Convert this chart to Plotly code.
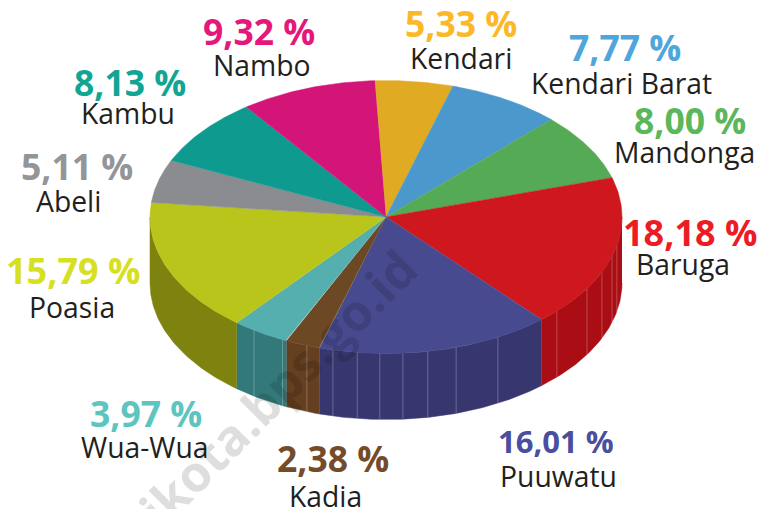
import numpy as np
import plotly.graph_objects as go

# Data (clockwise from the top of the pie)
districts = ["Kendari", "Kendari Barat", "Mandonga", "Baruga", "Puuwatu", "Kadia",
             "Wua-Wua", "Poasia", "Abeli", "Kambu", "Nambo"]
shares = [5.33, 7.77, 8.00, 18.18, 16.01, 2.38, 3.97, 15.79, 5.11, 8.13, 9.32]

# Styles
top_colors = ["#e0aa22", "#4a98cc", "#55aa55", "#ce181e", "#474a8e", "#6d4825",
              "#54afae", "#bac51c", "#8a8c8f", "#0f9a90", "#d31577"]
wall_colors = ["#a88019", "#376f96", "#3e7d3e", "#aa0d13", "#38366f", "#643f20",
               "#33797a", "#7e820e", "#66686a", "#0b716a", "#9b1058"]
label_colors = ["#fdb827", "#4ea6dc", "#5bb75b", "#ed1c24", "#4a4e9e", "#754c29",
                "#5cc5c0", "#d7df23", "#939598", "#12a594", "#e5177b"]
label_pos = [(461, 23, 58), (625, 47, 83), (690, 120, 152), (690, 232, 264),
             (556, 441, 476), (333, 458, 496), (146, 413, 447), (73, 270, 307),
             (77, 166, 201), (130, 82, 113), (259, 31, 65)]
label_sizes = [35.5, 35.5, 35.5, 36, 31, 35.5, 35.5, 36, 35.5, 35.5, 35.5]
name_x = [461, 621, 684, 683, 558, 325, 145, 72, 68, 128, 262]
stripe_angles = [133.6, 121.6, 113.8, 106.7, 102, 151.7, 162.7, 169.8, 175.9,
                 181.5, 187, 193, 199.6, 206, 214]

CX, CY, RX, RY, DEPTH, START = 386, 217, 236, 136.5, 66, -2.7
W, H = 763, 509
FONT = "Open Sans"


def ex(t):
    return CX + RX * np.sin(np.radians(t))


def ey(t):
    return CY - RY * np.cos(np.radians(t))


fig = go.Figure()
edges = START + np.concatenate([[0], np.cumsum(shares)]) * 360 / sum(shares)

# Side wall
for i in range(len(shares)):
    a, b = max(edges[i], 90), min(edges[i + 1], 270)
    if a >= b:
        continue
    t = np.linspace(a, b, 60)
    x = np.concatenate([ex(t), ex(t[::-1])])
    y = np.concatenate([ey(t), ey(t[::-1]) + DEPTH])
    fig.add_trace(go.Scatter(x=x, y=y, mode="lines", fill="toself", fillcolor=wall_colors[i],
                             line=dict(color=wall_colors[i], width=0.5), hoverinfo="skip"))

# Wall facets
for s in stripe_angles:
    fig.add_trace(go.Scatter(x=[ex(s), ex(s)], y=[ey(s), ey(s) + DEPTH], mode="lines",
                             line=dict(color="rgba(255,255,255,0.25)", width=1), hoverinfo="skip"))

# Top face
for i in range(len(shares)):
    t = np.linspace(edges[i], edges[i + 1], 80)
    x = np.concatenate([[CX], ex(t)])
    y = np.concatenate([[CY], ey(t)])
    fig.add_trace(go.Scatter(x=x, y=y, mode="lines", fill="toself", fillcolor=top_colors[i],
                             line=dict(color=top_colors[i], width=0.5), hoverinfo="skip"))

# Labels
ann = []
for i, name in enumerate(districts):
    px, py, ny = label_pos[i]
    pct = f"{shares[i]:.2f}".replace(".", ",") + " %"
    ann.append(dict(x=px, y=py, text=f"<b>{pct}</b>", showarrow=False, xanchor="center", yanchor="middle",
                    font=dict(family=FONT, size=label_sizes[i], color=label_colors[i])))
    ann.append(dict(x=name_x[i], y=ny, text=name, showarrow=False, xanchor="center", yanchor="middle",
                    font=dict(family=FONT, size=28.3, color="#231f20")))

# Watermark
ann.append(dict(x=215, y=451, text="<b>kendarikota.bps.go.id</b>", showarrow=False, textangle=-45,
                xanchor="center", yanchor="middle",
                font=dict(family=FONT, size=50, color="rgba(0,0,0,0.13)")))

fig.update_layout(
    width=W, height=H, margin=dict(l=0, r=0, t=0, b=0), showlegend=False,
    paper_bgcolor="white", plot_bgcolor="white", annotations=ann,
    xaxis=dict(range=[0, W], visible=False, fixedrange=True),
    yaxis=dict(range=[H, 0], visible=False, fixedrange=True),
)
fig.write_html("out.html", config=dict(displayModeBar=False),
               post_script="document.body.style.margin='0';document.documentElement.style.overflow='hidden';")
